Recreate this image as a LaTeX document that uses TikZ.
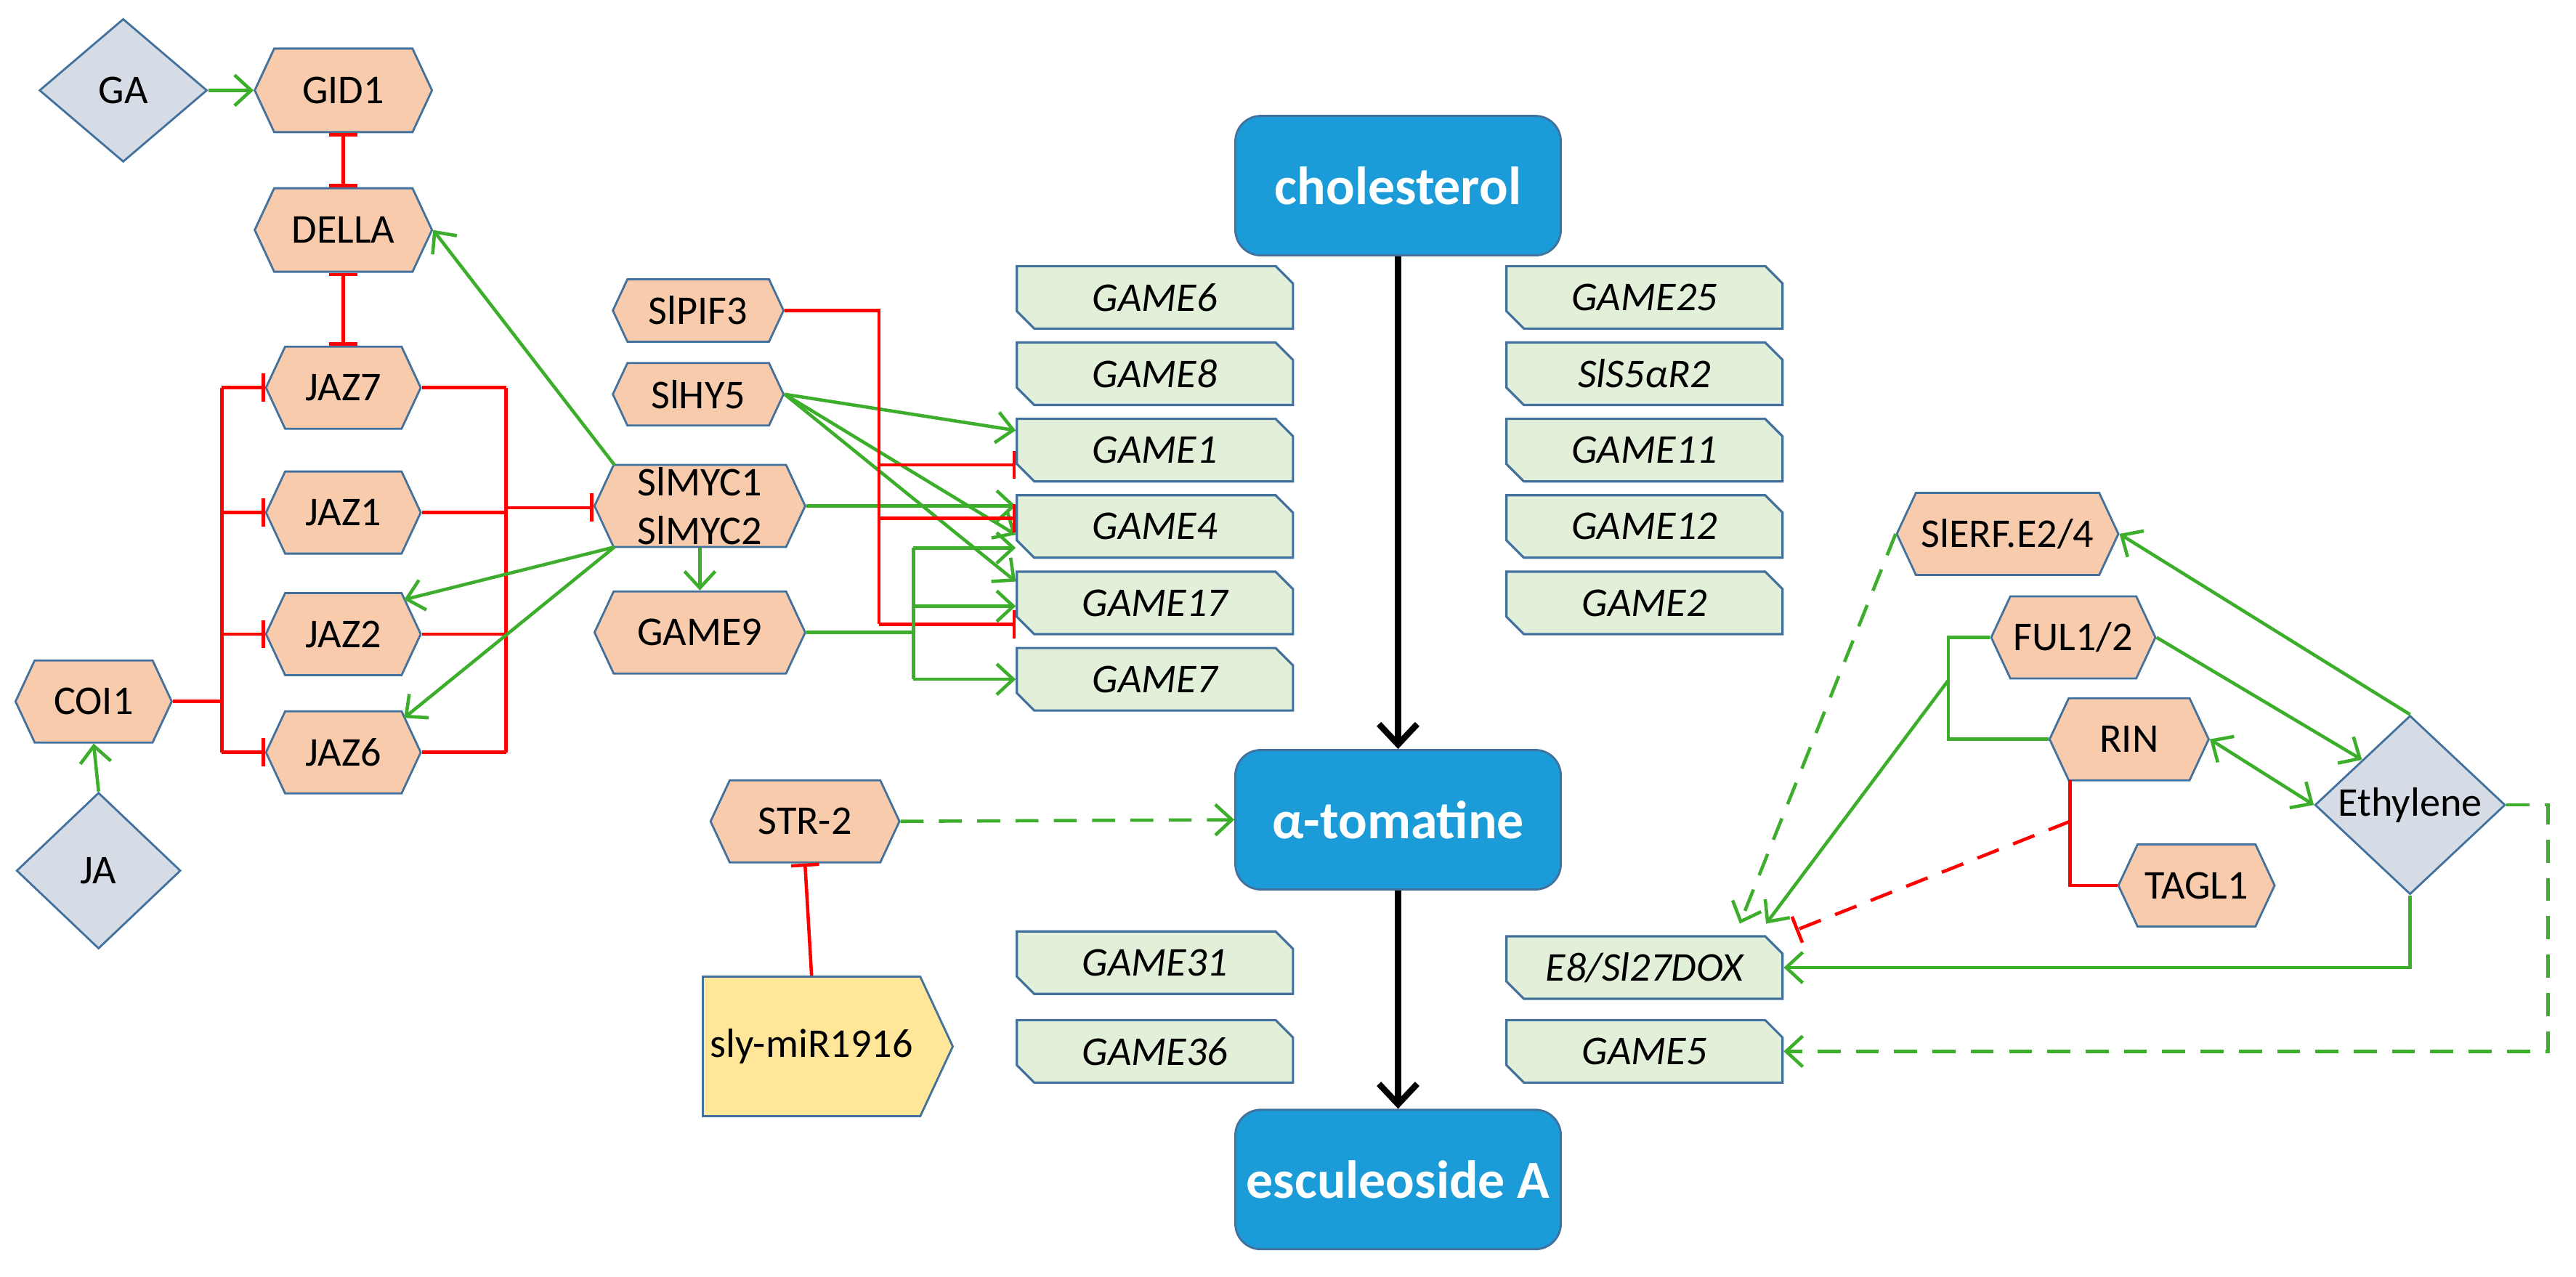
\documentclass[tikz,border=0pt]{standalone}
\usepackage{fontspec}
\setmainfont{Carlito}
\usetikzlibrary{shapes.geometric,shapes.symbols,shapes.misc,arrows.meta,calc}
\definecolor{orng}{HTML}{F8CBAD}
\definecolor{bord}{HTML}{41719C}
\definecolor{dia}{HTML}{D6DCE5}
\definecolor{gfill}{HTML}{E2F0D9}
\definecolor{cblue}{HTML}{1B9BD7}
\definecolor{cgreen}{HTML}{3DAE2B}
\definecolor{cyel}{HTML}{FFE699}
\begin{document}
\begin{tikzpicture}[x=0.022615cm,y=-0.022615cm,
  hex/.style={signal, signal to=west and east, signal pointer angle=130, draw=bord, fill=orng, line width=0.8pt, inner sep=0pt, font=\fontsize{16}{18}\selectfont, align=center},
  game/.style={chamfered rectangle, chamfered rectangle corners={north east,south west}, chamfered rectangle sep=3.4pt, draw=bord, fill=gfill, line width=0.9pt, minimum width=3.8cm, minimum height=0.86cm, inner sep=0pt, font=\itshape\fontsize{16}{18}\selectfont},
  diam/.style={diamond, draw=bord, fill=dia, line width=0.8pt, inner sep=0pt, font=\fontsize{16}{18}\selectfont},
  blue/.style={rounded corners=0.35cm, fill=cblue, draw=bord, line width=0.8pt, text=white, font=\bfseries\fontsize{21}{25}\selectfont, minimum width=4.48cm, minimum height=1.92cm},
  ga/.style={draw=cgreen, line width=1.3pt, -{Straight Barb[length=6.5pt,width=12pt]}},
  gl/.style={draw=cgreen, line width=1.3pt},
  ti/.style={draw=red, line width=1.3pt, -{Bar[width=11pt]}},
  rl/.style={draw=red, line width=1.3pt},
  ka/.style={draw=black, line width=2.4pt, -{Straight Barb[length=8pt,width=15pt]}}
]
\useasboundingbox (0,0) rectangle (1568,777);
% left nodes
\node[diam, minimum width=2.31cm, minimum height=1.97cm] (ga) at (75,55) {GA};
\node[hex, minimum width=2.44cm, minimum height=1.15cm] (gid) at (209,55) {GID1};
\node[hex, minimum width=2.44cm, minimum height=1.15cm] (della) at (209,140) {DELLA};
\node[hex, minimum width=2.13cm, minimum height=1.13cm] (jaz7) at (209,236) {JAZ7};
\node[hex, minimum width=2.13cm, minimum height=1.13cm] (jaz1) at (209,312) {JAZ1};
\node[hex, minimum width=2.13cm, minimum height=1.13cm] (jaz2) at (209,386) {JAZ2};
\node[hex, minimum width=2.13cm, minimum height=1.13cm] (jaz6) at (209,458) {JAZ6};
\node[hex, minimum width=2.15cm, minimum height=1.13cm] (coi) at (57,427) {COI1};
\node[diam, minimum width=2.26cm, minimum height=2.15cm] (ja) at (60,530) {JA};
\node[hex, minimum width=2.9cm, minimum height=1.13cm] (myc) at (426,308) {SlMYC1\\[1pt]SlMYC2};
\node[hex, minimum width=2.35cm, minimum height=0.86cm] (pif) at (425,189) {SlPIF3};
\node[hex, minimum width=2.35cm, minimum height=0.86cm] (hy) at (425,240) {SlHY5};
\node[hex, minimum width=2.9cm, minimum height=1.13cm] (g9) at (426,385) {GAME9};
\node[hex, minimum width=2.6cm, minimum height=1.13cm] (str) at (490,500) {STR-2};
\node[signal, signal to=east, signal pointer angle=130, draw=bord, fill=cyel, line width=0.8pt, inner sep=0pt, minimum width=3.44cm, minimum height=1.92cm, font=\fontsize{16}{18}\selectfont] (mir) at (494,637) {sly-miR1916};
% centre
\node[blue] (chol) at (851,113) {cholesterol};
\node[blue] (atom) at (851,499) {α-tomatine};
\node[blue] (esc) at (851,718) {esculeoside A};
% GAME columns
\node[game] (g6) at (703,181) {GAME6};
\node[game] (g8) at (703,227.5) {GAME8};
\node[game] (g1) at (703,274) {GAME1};
\node[game] (g4) at (703,320.5) {GAME4};
\node[game] (g17) at (703,367) {GAME17};
\node[game] (g7) at (703,413.5) {GAME7};
\node[game] (g25) at (1001,181) {GAME25};
\node[game] (s5) at (1001,227.5) {SlS5αR2};
\node[game] (g11) at (1001,274) {GAME11};
\node[game] (g12) at (1001,320.5) {GAME12};
\node[game] (g2) at (1001,367) {GAME2};
\node[game] (g31) at (703,586) {GAME31};
\node[game] (g36) at (703,640) {GAME36};
\node[game] (e8) at (1001,589) {E8/Sl27DOX};
\node[game] (g5) at (1001,640) {GAME5};
% right nodes
\node[hex, minimum width=3.05cm, minimum height=1.13cm] (erf) at (1222,325) {SlERF.E2/4};
\node[hex, minimum width=2.26cm, minimum height=1.13cm] (ful) at (1262,388) {FUL1/2};
\node[hex, minimum width=2.19cm, minimum height=1.13cm] (rin) at (1296,450) {RIN};
\node[hex, minimum width=2.15cm, minimum height=1.13cm] (tagl) at (1337,539) {TAGL1};
\node[diam, minimum width=2.62cm, minimum height=2.13cm] (eth) at (1467,490) {Ethylene};
% ---- connectors, left
\draw[ga] (ga.east) -- (gid.west);
\draw[rl, {Bar[width=11pt]}-{Bar[width=11pt]}] (gid.south) -- (della.north);
\draw[rl, {Bar[width=11pt]}-{Bar[width=11pt]}] (della.south) -- (jaz7.north);
\coordinate (bl) at (135,427);
\draw[rl] (coi.east) -- (bl);
\draw[rl] (bl |- jaz7.west) -- (bl |- jaz6.west);
\foreach \j in {jaz7,jaz1,jaz2,jaz6} \draw[ti] (bl |- \j.west) -- (\j.west);
\coordinate (br) at (308,309);
\draw[rl] (br |- jaz7.east) -- (br |- jaz6.east);
\foreach \j in {jaz7,jaz1,jaz2,jaz6} \draw[rl] (\j.east) -- (br |- \j.east);
\draw[ti] (br) -- (br -| myc.west);
\draw[ga] (ja.north) -- (coi.south);
\draw[ga] ($(myc.center)+(-52,-25)$) -- (della.east);
\draw[ga] ($(myc.center)+(-52,25)$) -- ($(jaz2.center)+(37,-21)$);
\draw[ga] ($(myc.center)+(-52,25)$) -- ($(jaz6.center)+(37,-21)$);
\draw[ga] (myc.south) -- (g9.north);
\draw[ga] (myc.east) -- (myc.east -| g4.west);
\draw[ga] (hy.east) -- ($(g1.west)+(0,-12)$);
\draw[ga] (hy.east) -- ($(g4.west)+(0,5)$);
\draw[ga] (hy.east) -- ($(g17.west)+(0,-13)$);
\coordinate (pv) at (535,189);
\draw[rl] (pif.east) -- (pv) -- (pv |- {$(g17.west)+(0,13)$});
\draw[ti] (pv |- {$(g1.west)+(0,9)$}) -- ($(g1.west)+(0,9)$);
\draw[ti] (pv |- {$(g4.west)+(0,-5)$}) -- ($(g4.west)+(0,-5)$);
\draw[ti] (pv |- {$(g17.west)+(0,13)$}) -- ($(g17.west)+(0,13)$);
\coordinate (gv) at (556,385);
\draw[gl] (g9.east) -- (gv);
\draw[gl] (gv |- {$(g4.west)+(0,13)$}) -- (gv |- g7.west);
\draw[ga] (gv |- {$(g4.west)+(0,13)$}) -- ($(g4.west)+(0,13)$);
\draw[ga] (gv |- {$(g17.west)+(0,2)$}) -- ($(g17.west)+(0,2)$);
\draw[ga] (gv |- g7.west) -- (g7.west);
\draw[ga, dashed, dash pattern=on 9pt off 6pt] (str.east) -- (atom.west);
\draw[ti] (mir.north) -- (str.south);
\draw[ka] (chol.south) -- (atom.north);
\draw[ka] (atom.south) -- (esc.north);
% ---- connectors, right
\draw[ga] (eth.north) -- (erf.east);
\draw[ga] (ful.east) -- (eth.north west);
\draw[ga, {Straight Barb[length=6.5pt,width=12pt]}-{Straight Barb[length=6.5pt,width=12pt]}] (rin.east) -- (eth.west);
\coordinate (fv) at (1186,388);
\coordinate (fm) at (1186,414);
\draw[gl] (ful.west) -- (fv) |- (rin.west);
\draw[ga] (fm) -- ($(e8.north)+(74,-7)$);
\draw[ga, dashed, dash pattern=on 9pt off 6pt] (erf.west) -- ($(e8.north)+(58,-7)$);
\coordinate (rv) at (1260,475);
\coordinate (rm) at (1260,500);
\draw[rl] (rv) |- (tagl.west);
\draw[ti, dashed, dash pattern=on 9pt off 6pt] (rm) -- ($(e8.north)+(92,-3)$);
\draw[ga] (eth.south) |- (e8.east);
\coordinate (ev) at (1551,490);
\draw[ga, dashed, dash pattern=on 9pt off 6pt] (eth.east) -- (ev) |- (g5.east);
\end{tikzpicture}
\end{document}
